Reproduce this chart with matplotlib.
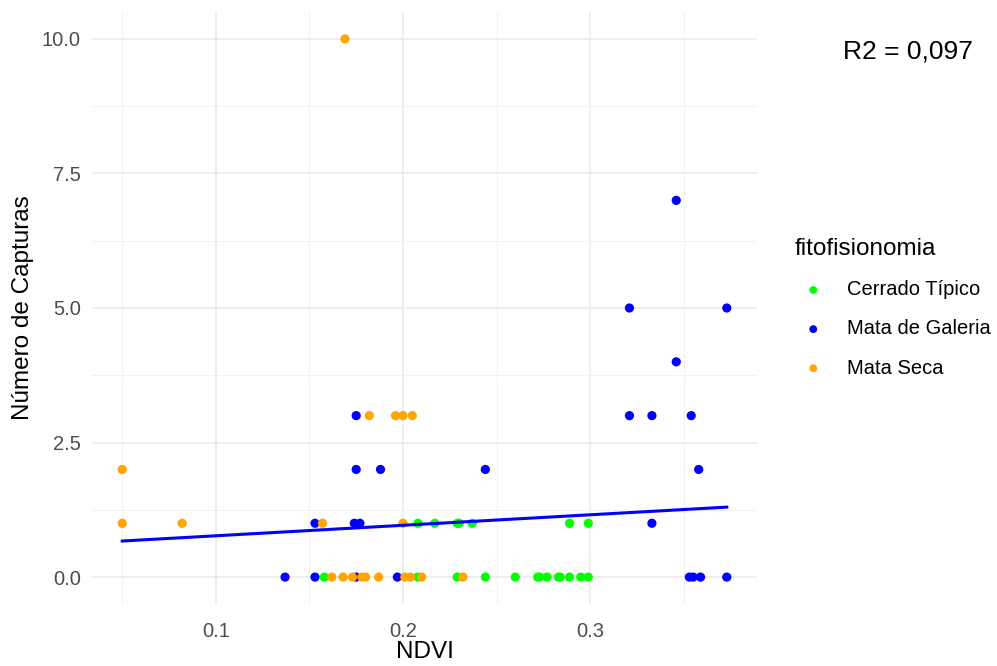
import numpy as np
import matplotlib
matplotlib.use("Agg")
import matplotlib.pyplot as plt
from matplotlib.ticker import MultipleLocator

plt.rcParams["font.family"] = ["Liberation Sans", "DejaVu Sans"]

# NDVI / captures per fitofisionomia
cerrado_x = [0.158, 0.208, 0.229, 0.244, 0.260, 0.272, 0.273, 0.277, 0.283, 0.284, 0.289, 0.295, 0.299,
             0.208, 0.217, 0.229, 0.230, 0.237, 0.289, 0.299]
cerrado_y = [0, 0, 0, 0, 0, 0, 0, 0, 0, 0, 0, 0, 0,
             1, 1, 1, 1, 1, 1, 1]

galeria_x = [0.137, 0.153, 0.175, 0.197, 0.353, 0.355, 0.359, 0.373,
             0.153, 0.174, 0.177, 0.333,
             0.175, 0.188, 0.244, 0.358,
             0.175, 0.321, 0.333, 0.354,
             0.346, 0.321, 0.373, 0.346]
galeria_y = [0, 0, 0, 0, 0, 0, 0, 0,
             1, 1, 1, 1,
             2, 2, 2, 2,
             3, 3, 3, 3,
             4, 5, 5, 7]

seca_x = [0.162, 0.168, 0.173, 0.178, 0.180, 0.187, 0.201, 0.204, 0.210, 0.232,
          0.050, 0.082, 0.157, 0.200,
          0.050,
          0.182, 0.196, 0.200, 0.205,
          0.169]
seca_y = [0, 0, 0, 0, 0, 0, 0, 0, 0, 0,
          1, 1, 1, 1,
          2,
          3, 3, 3, 3,
          10]

# fitted trend line (ends)
fit_x = [0.050, 0.373]
fit_y = [0.67, 1.30]

groups = ["Cerrado Típico", "Mata de Galeria", "Mata Seca"]
colors = ["#00FF00", "#0000FF", "#FFA500"]
r2_label = "R2 = 0,097"

fig = plt.figure(figsize=(9.97, 6.66), dpi=100)
ax = fig.add_axes([92 / 997, 1 - 604 / 666, (757 - 92) / 997, (604 - 12) / 666])

series = [(cerrado_x, cerrado_y), (galeria_x, galeria_y), (seca_x, seca_y)]
handles = []
for (xs, ys), name, c in zip(series, groups, colors):
    h = ax.scatter(xs, ys, s=44, color=c, edgecolors="none", label=name, zorder=3)
    handles.append(h)

ax.plot(fit_x, fit_y, color="#0000FF", lw=2.2, zorder=4)

all_x = np.array(cerrado_x + galeria_x + seca_x)
span = all_x.max() - all_x.min()
ax.set_xlim(all_x.min() - 0.05 * span, all_x.max() + 0.05 * span)
ax.set_ylim(-0.5, 10.5)

ax.xaxis.set_major_locator(MultipleLocator(0.1))
ax.xaxis.set_minor_locator(MultipleLocator(0.05))
ax.yaxis.set_major_locator(MultipleLocator(2.5))
ax.yaxis.set_minor_locator(MultipleLocator(1.25))
ax.xaxis.set_major_formatter(lambda v, p: f"{v:.1f}")
ax.yaxis.set_major_formatter(lambda v, p: f"{v:.1f}")

ax.grid(which="major", color="#EBEBEB", lw=1.2)
ax.grid(which="minor", color="#F2F2F2", lw=0.8)
ax.set_axisbelow(True)
for s in ax.spines.values():
    s.set_visible(False)
ax.tick_params(which="both", length=0)
ax.tick_params(axis="x", labelsize=14.5, labelcolor="#4D4D4D", pad=13)
ax.tick_params(axis="y", labelsize=14.5, labelcolor="#4D4D4D", pad=8)

ax.set_xlabel("NDVI", fontsize=17.5, labelpad=0)
ax.set_ylabel("Número de Capturas", fontsize=17.5, labelpad=6)

fig.text(908 / 997, 1 - 52 / 666, r2_label, fontsize=19, ha="center", va="center")

leg = fig.legend(handles=handles, labels=groups, title="fitofisionomia",
                 loc="upper left", bbox_to_anchor=(776 / 997, 1 - 220 / 666),
                 frameon=False, fontsize=14.5, title_fontsize=17.5,
                 markerscale=0.85, handletextpad=0.75, labelspacing=1.0,
                 handlelength=1.9)
leg._legend_box.align = "left"

fig.savefig("out.png", dpi=100)
